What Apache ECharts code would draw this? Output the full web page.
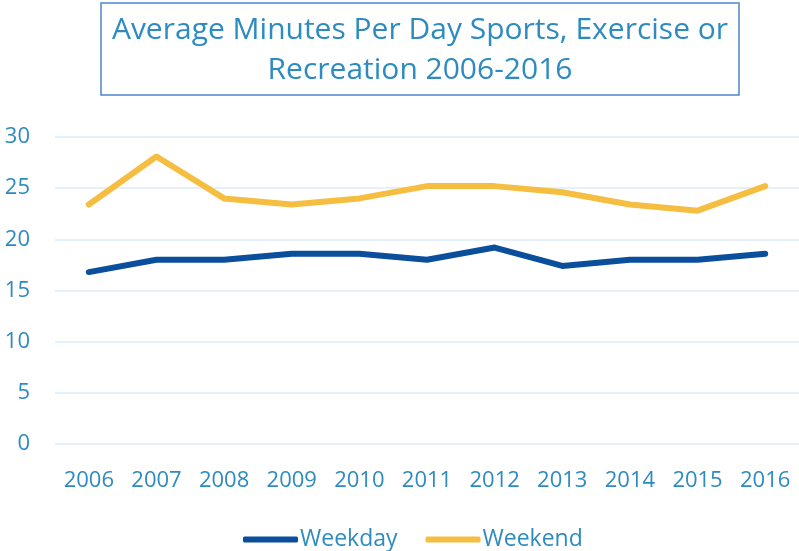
<!DOCTYPE html>
<html>
<head>
<meta charset="utf-8">
<script src="https://cdn.jsdelivr.net/npm/echarts@6/dist/echarts.min.js"></script>
<style>
  html, body { margin: 0; padding: 0; background: #fff; }
  #chart { width: 799px; height: 551px; }
</style>
</head>
<body>
<div id="chart"></div>
<script>
var years = ["2006", "2007", "2008", "2009", "2010", "2011", "2012", "2013", "2014", "2015", "2016"];
var weekday = [16.8, 18.0, 18.0, 18.6, 18.6, 18.0, 19.2, 17.4, 18.0, 18.0, 18.6];
var weekend = [23.4, 28.1, 24.0, 23.4, 24.0, 25.2, 25.2, 24.6, 23.4, 22.8, 25.2];

var labelColor = "#2e8bc0";
var chart = echarts.init(document.getElementById("chart"));

var option = {
  backgroundColor: "#fff",
  animation: false,
  title: {
    text: "Average Minutes Per Day Sports, Exercise or\nRecreation 2006-2016",
    left: 409,
    top: 3,
    textAlign: "center",
    borderColor: "#4a86d0",
    borderWidth: 1.5,
    padding: [7, 11, 5, 11],
    textStyle: {
      color: labelColor,
      fontFamily: "Open Sans",
      fontWeight: "normal",
      fontSize: 30,
      lineHeight: 40
    }
  },
  legend: {
    left: 238,
    top: 523,
    icon: "roundRect",
    itemWidth: 55,
    itemHeight: 6,
    itemGap: 28,
    textStyle: {
      color: labelColor,
      fontFamily: "Open Sans",
      fontSize: 23,
      padding: [0, 0, 0, -3]
    },
    data: ["Weekday", "Weekend"]
  },
  grid: {
    left: 55,
    right: 0,
    top: 137,
    bottom: 107
  },
  xAxis: {
    type: "category",
    data: years,
    boundaryGap: true,
    axisLine: { show: false },
    axisTick: { show: false },
    axisLabel: {
      color: labelColor,
      fontFamily: "Open Sans",
      fontSize: 22,
      margin: 26
    }
  },
  yAxis: {
    type: "value",
    min: 0,
    max: 30,
    interval: 5,
    axisLine: { show: false },
    axisTick: { show: false },
    splitLine: {
      lineStyle: { color: "#dcecf8", width: 1.5 }
    },
    axisLabel: {
      color: labelColor,
      fontFamily: "Open Sans",
      fontSize: 22,
      margin: 25
    }
  },
  series: [
    {
      name: "Weekday",
      type: "line",
      data: weekday,
      symbol: "none",
      color: "#0b4f9c",
      lineStyle: { width: 6, cap: "round", join: "round" }
    },
    {
      name: "Weekend",
      type: "line",
      data: weekend,
      symbol: "none",
      color: "#f5be41",
      lineStyle: { width: 6, cap: "round", join: "round" }
    }
  ]
};

chart.setOption(option);
</script>
</body>
</html>
